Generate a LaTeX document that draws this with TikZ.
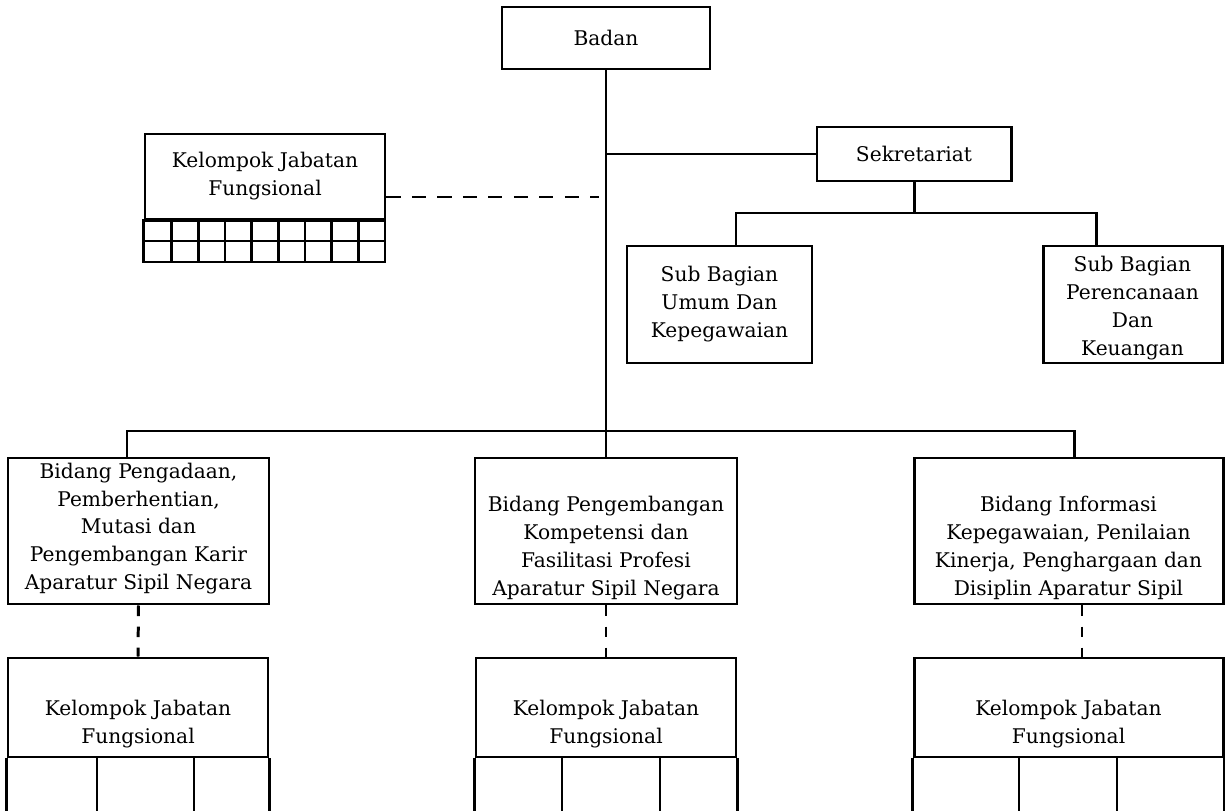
\documentclass[tikz,border=0pt]{standalone}
\usepackage{fontspec}
\setmainfont{DejaVu Serif}
\begin{document}
\begin{tikzpicture}[x=0.02cm, y=-0.02cm, font=\fontsize{11.5}{15.9}\selectfont,
	kotak/.style={draw, line width=1.7pt, inner sep=0pt, align=center},
	ukuran/.style 2 args={minimum width=#1*0.02cm, minimum height=#2*0.02cm},
	garis/.style={line width=1.7pt},
	tipis/.style={line width=1.2pt},
	putus/.style={line width=1.7pt, dash pattern=on 6pt off 6pt}]
	\useasboundingbox (0,0) rectangle (1225,811);
	% Kotak atas
	\node[kotak, ukuran={208}{62}] (badan) at (606,38) {Badan};
	\node[kotak, ukuran={194}{54}] (sekretariat) at (914,154) {Sekretariat};
	\node[kotak, ukuran={185}{117}] (subumum) at (719.5,304.5) {Sub Bagian\\Umum Dan\\Kepegawaian};
	\node[kotak, ukuran={179}{117}] (subkeu) at (1132.5,304.5) {\mbox{}\\[-3pt]Sub Bagian\\Perencanaan\\Dan\\Keuangan};
	% Kelompok jabatan fungsional (kiri atas)
	\node[kotak, ukuran={240}{85}] (kjf) at (265,176.5) {Kelompok Jabatan\\Fungsional};
	\draw[garis] (kjf.south west) rectangle (385,262);
	\draw[garis] (145,241) -- (385,241);
	\foreach \i in {1,...,8}
	\draw[garis] ({145+\i*240/9},219) -- ++(0,43);
	% Kotak bidang
	\node[kotak, ukuran={261}{146}] (bidang1) at (138.5,531) {\mbox{}\\[-10pt]Bidang Pengadaan,\\Pemberhentian,\\Mutasi dan\\Pengembangan Karir\\Aparatur Sipil Negara};
	\node[kotak, ukuran={262}{146}] (bidang2) at (606,531) {\mbox{}\\[12pt]Bidang Pengembangan\\Kompetensi dan\\Fasilitasi Profesi\\Aparatur Sipil Negara};
	\node[kotak, ukuran={309}{146}] (bidang3) at (1068.5,531) {\mbox{}\\[12pt]Bidang Informasi\\Kepegawaian, Penilaian\\Kinerja, Penghargaan dan\\Disiplin Aparatur Sipil};
	% Kelompok jabatan fungsional (bawah)
	\foreach \n/\x/\w/\a/\b in {kel1/138/260/97/194, kel2/606/260/562/660, kel3/1068.5/309/1019/1117} {
		\node[kotak, ukuran={\w}{99}] (\n) at (\x,707.5) {\mbox{}\\[12pt]Kelompok Jabatan\\Fungsional};
		\draw[garis] (\n.south west) -- ++(0,80) (\n.south east) -- ++(0,80);
		\draw[tipis] (\a,757) -- (\a,830) (\b,757) -- (\b,830);
	}
	% Garis penghubung
	\coordinate (bus) at (badan.south |- 0,431);
	\coordinate (kiri) at (127,431);
	\coordinate (kanan) at (1074,431);
	\draw[garis] (badan.south) -- (bus);
	\draw[garis] (badan.south |- sekretariat.west) -- (sekretariat.west);
	\draw[garis] (kiri |- bidang1.north) -- (kiri) -- (kanan) -- (kanan |- bidang3.north);
	\draw[garis] (bus) -- (bidang2.north);
	\coordinate (cabang) at (sekretariat.south |- 0,213);
	\coordinate (ca) at (736,213);
	\coordinate (cb) at (1096,213);
	\draw[garis] (sekretariat.south) -- (cabang);
	\draw[garis] (ca |- subumum.north) -- (ca) -- (cb) -- (cb |- subkeu.north);
	% Garis putus-putus
	\draw[putus, dash pattern=on 8pt off 6.5pt, shorten >=4pt] (kjf.east |- 0,197) -- (badan.south |- 0,197);
	\draw[putus] (bidang1.south) -- (kel1.north);
	\draw[putus] (bidang2.south) -- (kel2.north);
	\draw[putus] ([xshift=0.27cm]bidang3.south) -- ([xshift=0.27cm]kel3.north);
\end{tikzpicture}
\end{document}
